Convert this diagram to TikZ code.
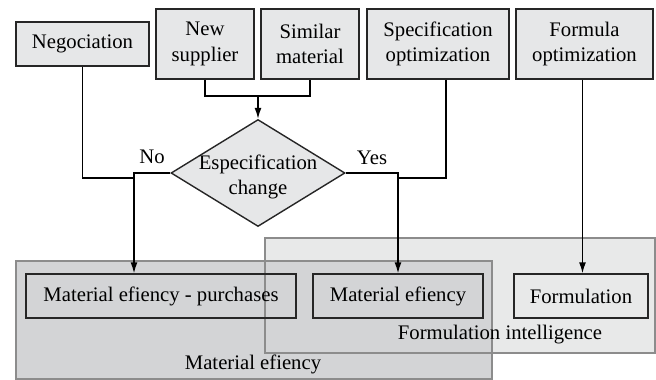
\documentclass[tikz,border=0pt]{standalone}
\usepackage{fontspec}
\setmainfont{Liberation Serif}
\usetikzlibrary{arrows.meta, shapes.geometric, calc, positioning}
\definecolor{boxGray}{HTML}{E6E7E8}
\definecolor{groupDark}{HTML}{D3D4D6}
\definecolor{groupLight}{HTML}{E8E9E9}
\definecolor{groupLine}{HTML}{8C8C8C}
\tikzset{
    topBox/.style={rectangle, draw=black!85, fill=boxGray, line width=1.4pt, align=center, inner sep=0pt},
    lowBox/.style={rectangle, draw=black!85, line width=1.4pt, minimum height=44pt, inner sep=0pt},
    decision/.style={diamond, draw=black!85, fill=boxGray, line width=1.4pt, inner sep=0pt, minimum width=174pt, minimum height=107pt},
    groupArea/.style={draw=groupLine, line width=1.2pt},
    flowLine/.style={line width=1.4pt},
    flowArrow/.style={-{Latex[length=11pt, width=7pt]}, line width=1.4pt},
}
\begin{document}
\begin{tikzpicture}[x=1pt, y=-1pt, font=\fontsize{20.7}{25.5}\selectfont]
    \useasboundingbox (0,0) rectangle (656,380);

    % groups
    \fill[groupLight] (265,238) rectangle (655,353);
    \fill[groupDark] (16,261) rectangle (492,379);
    \draw[groupArea] (265,238) rectangle (655,353);
    \draw[groupArea] (16,261) rectangle (492,379);
    \node (meLabel) at (253,364) {Material efiency};
    \node (fiLabel) at (500,335) {Formulation intelligence};

    % top row
    \node[topBox, minimum width=133pt, minimum height=44pt] (Neg) at (82.5,44) {Negociation};
    \node[topBox, minimum width=98pt, minimum height=70pt] (NewSup) at (205,44) {New\\supplier};
    \node[topBox, minimum width=98pt, minimum height=70pt] (SimMat) at (310,44) {Similar\\material};
    \node[topBox, minimum width=142pt, minimum height=70pt] (SpecOpt) at (438,44) {Specification\\optimization};
    \node[topBox, minimum width=137pt, minimum height=70pt] (FormOpt) at (584.5,44) {Formula\\optimization};

    \node[decision, label={[align=center, yshift=-4pt]center:Especification\\change}] (Dec) at (258,173) {};

    % bottom row
    \node[lowBox, minimum width=270pt] (MatPur) at (161,296) {Material efiency - purchases};
    \node[lowBox, minimum width=170pt] (MatEf) at (398,296) {Material efiency};
    \node[lowBox, minimum width=134pt] (Form) at (581,296) {Formulation};

    % connectors
    \coordinate (merge) at (258,96);
    \draw[flowLine] (NewSup.south) |- (merge) -| (SimMat.south);
    \draw[flowArrow] (merge) -- (Dec.north);

    \coordinate (noJoin) at (134,173);
    \coordinate (negJoin) at (134,178);
    \draw[flowLine] (Neg.south) |- (negJoin);
    \draw[flowArrow] (Dec.west) -- (noJoin) -- (noJoin |- MatPur.north);
    \node (no) at (152,157) {No};

    \coordinate (yesJoin) at (398,173);
    \coordinate (specJoin) at (398,178);
    \coordinate (specOut) at ($(SpecOpt.south)+(8,0)$);
    \draw[flowLine] (specOut) |- (specJoin);
    \draw[flowArrow] (Dec.east) -- (yesJoin) -- (MatEf.north);
    \node (yes) at (372,158) {Yes};

    \draw[flowArrow] (FormOpt.south) ++(-2,0) coordinate (formOut) -- (formOut |- Form.north);
\end{tikzpicture}
\end{document}
